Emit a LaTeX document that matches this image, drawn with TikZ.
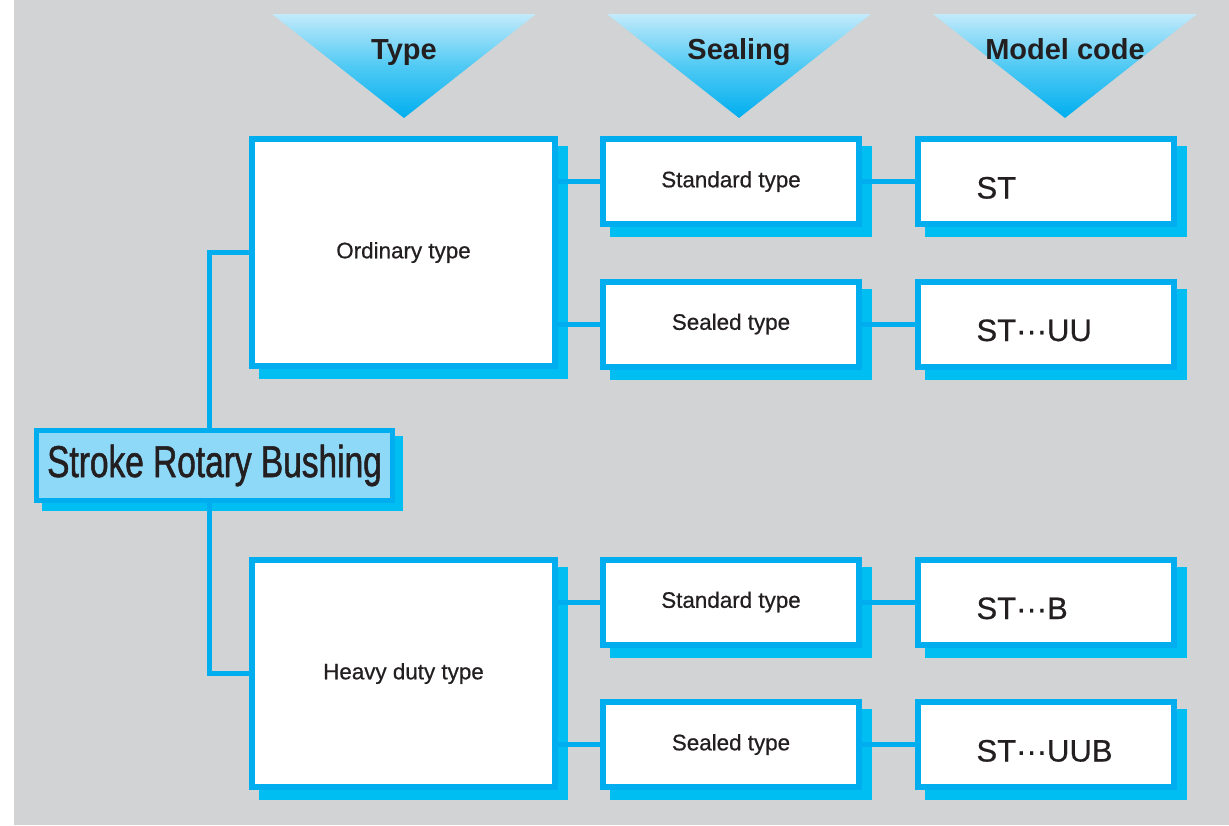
\documentclass[tikz,border=0pt]{standalone}
\usepackage{fontspec}
\setmainfont{Liberation Sans}
\newfontfamily\narrowfont[FakeStretch=0.75,FakeBold=1.2]{Liberation Sans}
\newfontfamily\boxfont[FakeBold=0.6]{Liberation Sans}

\definecolor{bggray}{RGB}{209,211,212}
\definecolor{cyanline}{RGB}{0,174,239}
\definecolor{shadowcyan}{RGB}{0,190,242}
\definecolor{mainfill}{RGB}{142,216,248}
\definecolor{tritop}{RGB}{194,234,251}
\definecolor{trimid}{RGB}{80,202,244}
\definecolor{inkdark}{RGB}{35,31,32}

\pgfdeclarelayer{back}
\pgfsetlayers{back,main}

\begin{document}
\begin{tikzpicture}
				[x=0.5pt,y=-0.5pt,
				every node/.style={text=inkdark},
				box/.style={draw=cyanline,line width=3pt,fill=white,inner sep=0pt},
				typebox/.style={box,minimum width=151.5pt,minimum height=113.5pt,font=\boxfont\fontsize{11.2}{13}\selectfont},
				sealbox/.style={box,minimum width=128pt,minimum height=42.5pt,font=\boxfont\fontsize{11.2}{13}\selectfont},
				codebox/.style={box,minimum width=128pt,minimum height=42.5pt,inner xsep=29.5pt,
					text width=69pt,align=left,text height=17pt,text depth=0pt,font=\boxfont\fontsize{15.5}{18}\selectfont},
				link/.style={draw=cyanline,line width=2.5pt}]
				\useasboundingbox (0,0) rectangle (1229,825);
				\begin{pgfonlayer}{back}
					\fill[white] (0,0) rectangle (1229,825);
					\fill[bggray] (14,0) rectangle (1229,825);
				\end{pgfonlayer}
				% column heads
				\foreach \x/\nm/\txt in {404/typehd/Type,739/sealhd/Sealing,1065/codehd/Model code}{
					\shade[top color=tritop,bottom color=cyanline,middle color=trimid]
						(\x-132,14) -- (\x+132,14) -- (\x,118) -- cycle;
					\node[anchor=base,font=\bfseries\fontsize{14.5}{17}\selectfont] (\nm) at (\x,59) {\txt};
				}
				% root
				\node[draw=cyanline,line width=2.5pt,fill=mainfill,inner sep=0pt,
					minimum width=178pt,minimum height=35pt,
					font=\narrowfont\fontsize{22.3}{26}\selectfont] (bushing) at (214.5,465.5) {Stroke Rotary Bushing};
				% type
				\node[typebox] (ordinary) at (403.5,252.5) {Ordinary type};
				\node[typebox] (heavy) at (403.5,673.5) {Heavy duty type};
				% sealing
				\node[sealbox] (std1) at (731,181.5) {Standard type};
				\node[sealbox] (sld1) at (731,324) {Sealed type};
				\node[sealbox] (std2) at (731,602) {Standard type};
				\node[sealbox] (sld2) at (731,744.5) {Sealed type};
				% model code
				\node[codebox] (st) at (1045.5,181.5) {ST};
				\node[codebox] (stuu) at (1045.5,324) {ST\textperiodcentered\textperiodcentered\textperiodcentered UU};
				\node[codebox] (stb) at (1045.5,602) {ST\textperiodcentered\textperiodcentered\textperiodcentered B};
				\node[codebox] (stuub) at (1045.5,744.5) {ST\textperiodcentered\textperiodcentered\textperiodcentered UUB};
				% shadows and links behind the boxes
				\begin{pgfonlayer}{back}
					\foreach \n/\d in {bushing/8,ordinary/10,heavy/10,std1/10,sld1/10,std2/10,sld2/10,st/10,stuu/10,stb/10,stuub/10}
						\fill[shadowcyan] ([shift={(\d,\d)}]\n.north west) rectangle ([shift={(\d,\d)}]\n.south east);
					\draw[link] (ordinary.west) -- ++(-40,0) |- (heavy.west);
					\foreach \a/\b in {ordinary/std1,ordinary/sld1,heavy/std2,heavy/sld2}
						\draw[link] (\a.east |- \b.west) -- (\b.west);
					\foreach \a/\b in {std1/st,sld1/stuu,std2/stb,sld2/stuub}
						\draw[link] (\a.east) -- (\b.west);
				\end{pgfonlayer}
			\end{tikzpicture}
\end{document}
